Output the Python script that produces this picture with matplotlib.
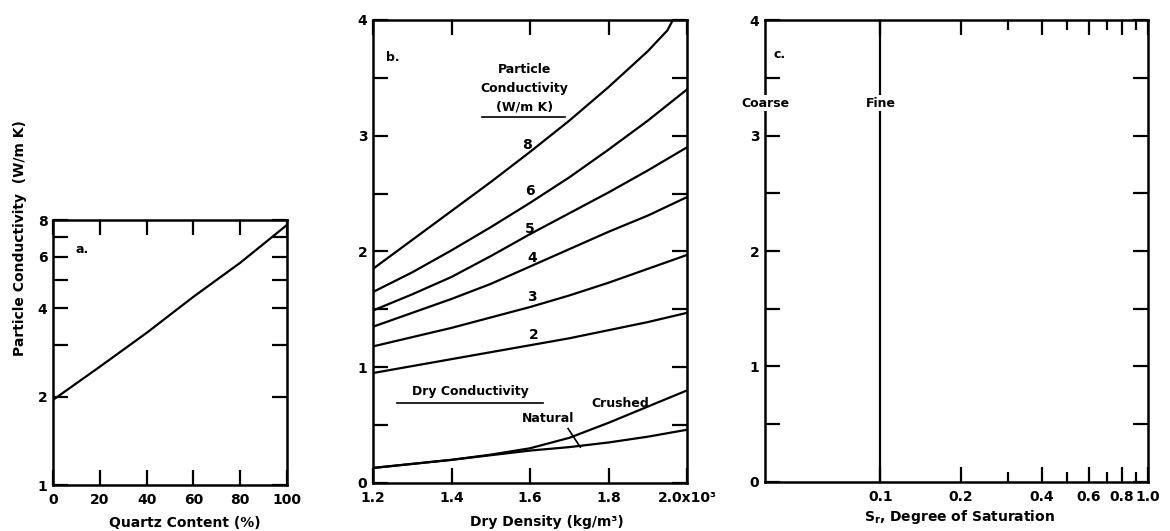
import matplotlib.pyplot as plt
from matplotlib.ticker import NullFormatter, NullLocator

# panel a: particle conductivity vs quartz content
quartz_pct = [0, 20, 40, 60, 80, 100]
particle_k = [1.95, 2.53, 3.3, 4.38, 5.72, 7.7]

# panel b: conductivity vs dry density, one curve per particle conductivity
density = [1.2, 1.3, 1.4, 1.5, 1.6, 1.7, 1.8, 1.9, 2.0]
density_k8 = [1.2, 1.3, 1.4, 1.5, 1.6, 1.7, 1.8, 1.9, 1.95, 1.964]
k8 = [1.85, 2.10, 2.35, 2.60, 2.86, 3.13, 3.42, 3.73, 3.91, 4.0]
k6 = [1.65, 1.82, 2.01, 2.21, 2.42, 2.64, 2.88, 3.13, 3.40]
k5 = [1.49, 1.63, 1.78, 1.96, 2.15, 2.33, 2.51, 2.70, 2.90]
k4 = [1.35, 1.47, 1.59, 1.72, 1.87, 2.02, 2.17, 2.31, 2.47]
k3 = [1.18, 1.26, 1.34, 1.43, 1.52, 1.62, 1.73, 1.85, 1.97]
k2 = [0.95, 1.01, 1.07, 1.13, 1.19, 1.25, 1.32, 1.39, 1.47]
dry_crushed = [0.13, 0.165, 0.20, 0.245, 0.30, 0.39, 0.52, 0.66, 0.80]
dry_natural = [0.13, 0.165, 0.20, 0.24, 0.28, 0.31, 0.35, 0.40, 0.46]
curve_labels = ["8", "6", "5", "4", "3", "2"]
label_xy = [(1.592, 2.92), (1.60, 2.52), (1.60, 2.19), (1.605, 1.94), (1.605, 1.61), (1.61, 1.28)]

# panel c: degree of saturation
sat_ticks = [0.1, 0.2, 0.4, 0.6, 0.8, 1.0]
sat_tick_labels = ["0.1", "0.2", "0.4", "0.6", "0.8", "1.0"]
sat_minor = [0.3, 0.5, 0.7, 0.9]
fine_x = [0.1, 0.1]
fine_y = [0, 4]

plt.rcParams["font.family"] = ["DejaVu Sans"]
plt.rcParams["font.weight"] = "bold"
plt.rcParams["font.size"] = 10

LW = 1.6
SPINE = 1.8

fig = plt.figure(figsize=(11.7, 5.31), dpi=100)
ax_a = fig.add_axes([0.0453, 0.0866, 0.2, 0.499])
ax_b = fig.add_axes([0.3188, 0.0904, 0.2684, 0.872])
ax_c = fig.add_axes([0.6538, 0.0923, 0.3274, 0.870])

for ax in (ax_a, ax_b, ax_c):
    for s in ax.spines.values():
        s.set_linewidth(SPINE)
    ax.tick_params(which="both", direction="in", top=True, right=True,
                   width=1.6, labelsize=10, pad=4)
    ax.tick_params(which="major", length=11)
    ax.tick_params(axis="x", pad=6)

# --- a ---
ax_a.plot(quartz_pct, particle_k, color="black", lw=LW)
ax_a.set_yscale("log")
ax_a.set_xlim(0, 100)
ax_a.set_ylim(1, 8)
ax_a.yaxis.set_minor_locator(NullLocator())
ax_a.yaxis.set_minor_formatter(NullFormatter())
ax_a.set_yticks([1, 2, 3, 4, 5, 6, 7, 8])
ax_a.set_yticklabels(["1", "2", "", "4", "", "6", "", "8"])
ax_a.set_xticks([0, 20, 40, 60, 80, 100])
ax_a.set_xticklabels(["0", "20", "40", "60", "80", "100"])
ax_a.text(12.4, 6.34, "a.", fontsize=9, ha="center", va="center")
fig.text(0.158, 0.015, "Quartz Content (%)", ha="center", va="center", fontsize=10)
fig.text(0.017, 0.552, "Particle Conductivity  (W/m K)", rotation=90,
         ha="center", va="center", fontsize=10)

# --- b ---
ax_b.plot(density_k8, k8, color="black", lw=LW)
for ys in (k6, k5, k4, k3, k2, dry_crushed, dry_natural):
    ax_b.plot(density, ys, color="black", lw=LW)
ax_b.set_xlim(1.2, 2.0)
ax_b.set_ylim(0, 4)
ax_b.set_xticks([1.2, 1.4, 1.6, 1.8, 2.0])
ax_b.set_xticklabels(["1.2", "1.4", "1.6", "1.8", "2.0x10\u00b3"])
ax_b.set_yticks([0, 0.5, 1, 1.5, 2, 2.5, 3, 3.5, 4])
ax_b.set_yticklabels(["0", "", "1", "", "2", "", "3", "", "4"])
for lab, (x, y) in zip(curve_labels, label_xy):
    ax_b.text(x, y, lab, ha="center", va="center", fontsize=10)
ax_b.text(1.25, 3.68, "b.", fontsize=9, ha="center", va="center")
ax_b.text(1.585, 3.57, "Particle", ha="center", va="center", fontsize=9)
ax_b.text(1.585, 3.41, "Conductivity", ha="center", va="center", fontsize=9)
ax_b.text(1.585, 3.25, "(W/m K)", ha="center", va="center", fontsize=9)
ax_b.plot([1.478, 1.689], [3.16, 3.16], color="black", lw=1.2)
ax_b.text(1.447, 0.79, "Dry Conductivity", ha="center", va="center", fontsize=9)
ax_b.plot([1.26, 1.634], [0.69, 0.69], color="black", lw=1.2)
ax_b.text(1.646, 0.56, "Natural", ha="center", va="center", fontsize=9)
ax_b.text(1.83, 0.69, "Crushed", ha="center", va="center", fontsize=9)
ax_b.plot([1.697, 1.728], [0.47, 0.31], color="black", lw=1.2)
fig.text(0.467, 0.017, "Dry Density (kg/m\u00b3)", ha="center", va="center", fontsize=10)

# --- c ---
ax_c.plot(fine_x, fine_y, color="black", lw=LW)
ax_c.set_xscale("log")
ax_c.set_xlim(0.037, 1.0)
ax_c.set_ylim(0, 4)
ax_c.set_xticks(sat_ticks)
ax_c.set_xticklabels(sat_tick_labels)
ax_c.set_xticks(sat_minor, minor=True)
ax_c.xaxis.set_minor_formatter(NullFormatter())
ax_c.tick_params(axis="x", which="minor", length=7, width=1.6)
ax_c.set_yticks([0, 0.5, 1, 1.5, 2, 2.5, 3, 3.5, 4])
ax_c.set_yticklabels(["0", "", "1", "", "2", "", "3", "", "4"])
ax_c.text(0.042, 3.70, "c.", fontsize=9, ha="center", va="center")
ax_c.text(0.037, 3.28, "Coarse", ha="center", va="center", fontsize=9, zorder=5,
          clip_on=False, bbox=dict(facecolor="white", edgecolor="none", pad=1))
ax_c.text(0.1, 3.28, "Fine", ha="center", va="center", fontsize=9, zorder=5,
          bbox=dict(facecolor="white", edgecolor="none", pad=1))
fig.text(0.82, 0.026, "S$\\mathregular{_r}$, Degree of Saturation", ha="center", va="center",
         fontsize=10)

fig.savefig("out.png", dpi=100)
